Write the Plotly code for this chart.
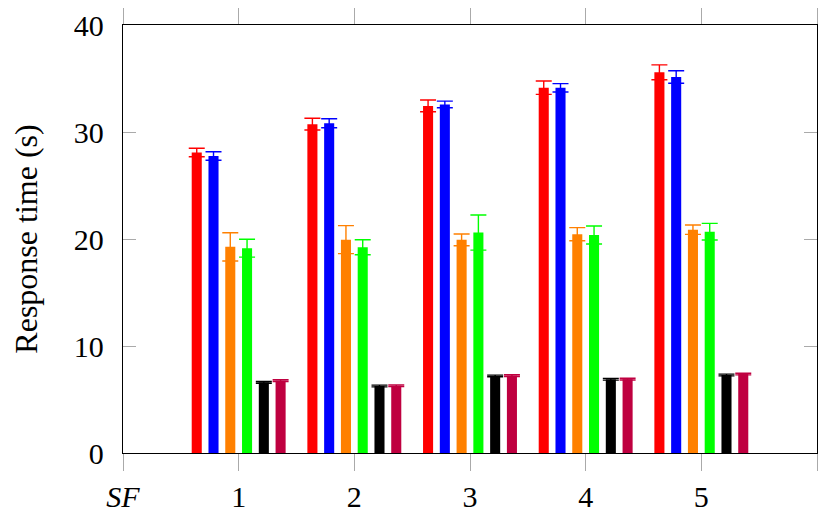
import plotly.graph_objects as go

groups = [1, 2, 3, 4, 5]
x_tickvals = [0, 1, 2, 3, 4, 5, 6]
x_ticktext = ["<i>SF</i>", "1", "2", "3", "4", "5", ""]
y_tickvals = [0, 10, 20, 30, 40]

red_vals = [28.08, 30.73, 32.44, 34.14, 35.58]
red_err = [0.40, 0.55, 0.55, 0.62, 0.69]
blue_vals = [27.76, 30.82, 32.58, 34.13, 35.14]
blue_err = [0.40, 0.42, 0.31, 0.39, 0.59]
orange_vals = [19.27, 19.94, 19.92, 20.45, 20.87]
orange_err = [1.32, 1.31, 0.55, 0.61, 0.44]
green_vals = [19.14, 19.23, 20.60, 20.37, 20.68]
green_err = [0.83, 0.70, 1.64, 0.84, 0.78]
black_vals = [6.60, 6.26, 7.20, 6.89, 7.29]
black_err = [0.08, 0.08, 0.08, 0.08, 0.08]
purple_vals = [6.76, 6.29, 7.23, 6.90, 7.38]
purple_err = [0.08, 0.08, 0.08, 0.08, 0.08]

series = [
    ("red", red_vals, red_err, "#FF0000"),
    ("blue", blue_vals, blue_err, "#0000FF"),
    ("orange", orange_vals, orange_err, "#FF8000"),
    ("green", green_vals, green_err, "#00FF00"),
    ("black", black_vals, black_err, "#000000"),
    ("purple", purple_vals, purple_err, "#BF0040"),
]

fig = go.Figure()
for name, vals, errs, col in series:
    fig.add_trace(go.Bar(
        x=groups, y=vals, name=name,
        marker=dict(color=col, line=dict(width=0)),
        error_y=dict(type="data", array=errs, visible=True,
                     color=col, thickness=1.4, width=8),
        showlegend=False,
    ))

font_family = "Liberation Serif"
fig.update_layout(
    width=822, height=515,
    margin=dict(l=115, r=13, t=17, b=70, autoexpand=False),
    plot_bgcolor="white", paper_bgcolor="white",
    barmode="group", bargap=0.13, bargroupgap=0.40,
    font=dict(family=font_family, size=30, color="black"),
)
fig.update_xaxes(
    range=[0, 6], tickvals=x_tickvals, ticktext=x_ticktext,
    ticks="outside", ticklen=17, tickcolor="#AAAAAA", tickwidth=1.3,
    showline=True, linecolor="black", linewidth=1.3, mirror="ticks",
    showgrid=False, zeroline=False, automargin=False,
    tickfont=dict(family=font_family, size=30),
)
fig.update_yaxes(
    range=[0, 40], tickvals=y_tickvals,
    ticks="inside", ticklen=13, tickcolor="#AAAAAA", tickwidth=1.3,
    showline=True, linecolor="black", linewidth=1.3, mirror="ticks",
    showgrid=False, zeroline=False, automargin=False,
    tickfont=dict(family=font_family, size=30),
    ticklabelstandoff=12,
    title=dict(text="Response time (s)", font=dict(family=font_family, size=32), standoff=26),
)

fig.write_html("out.html")
